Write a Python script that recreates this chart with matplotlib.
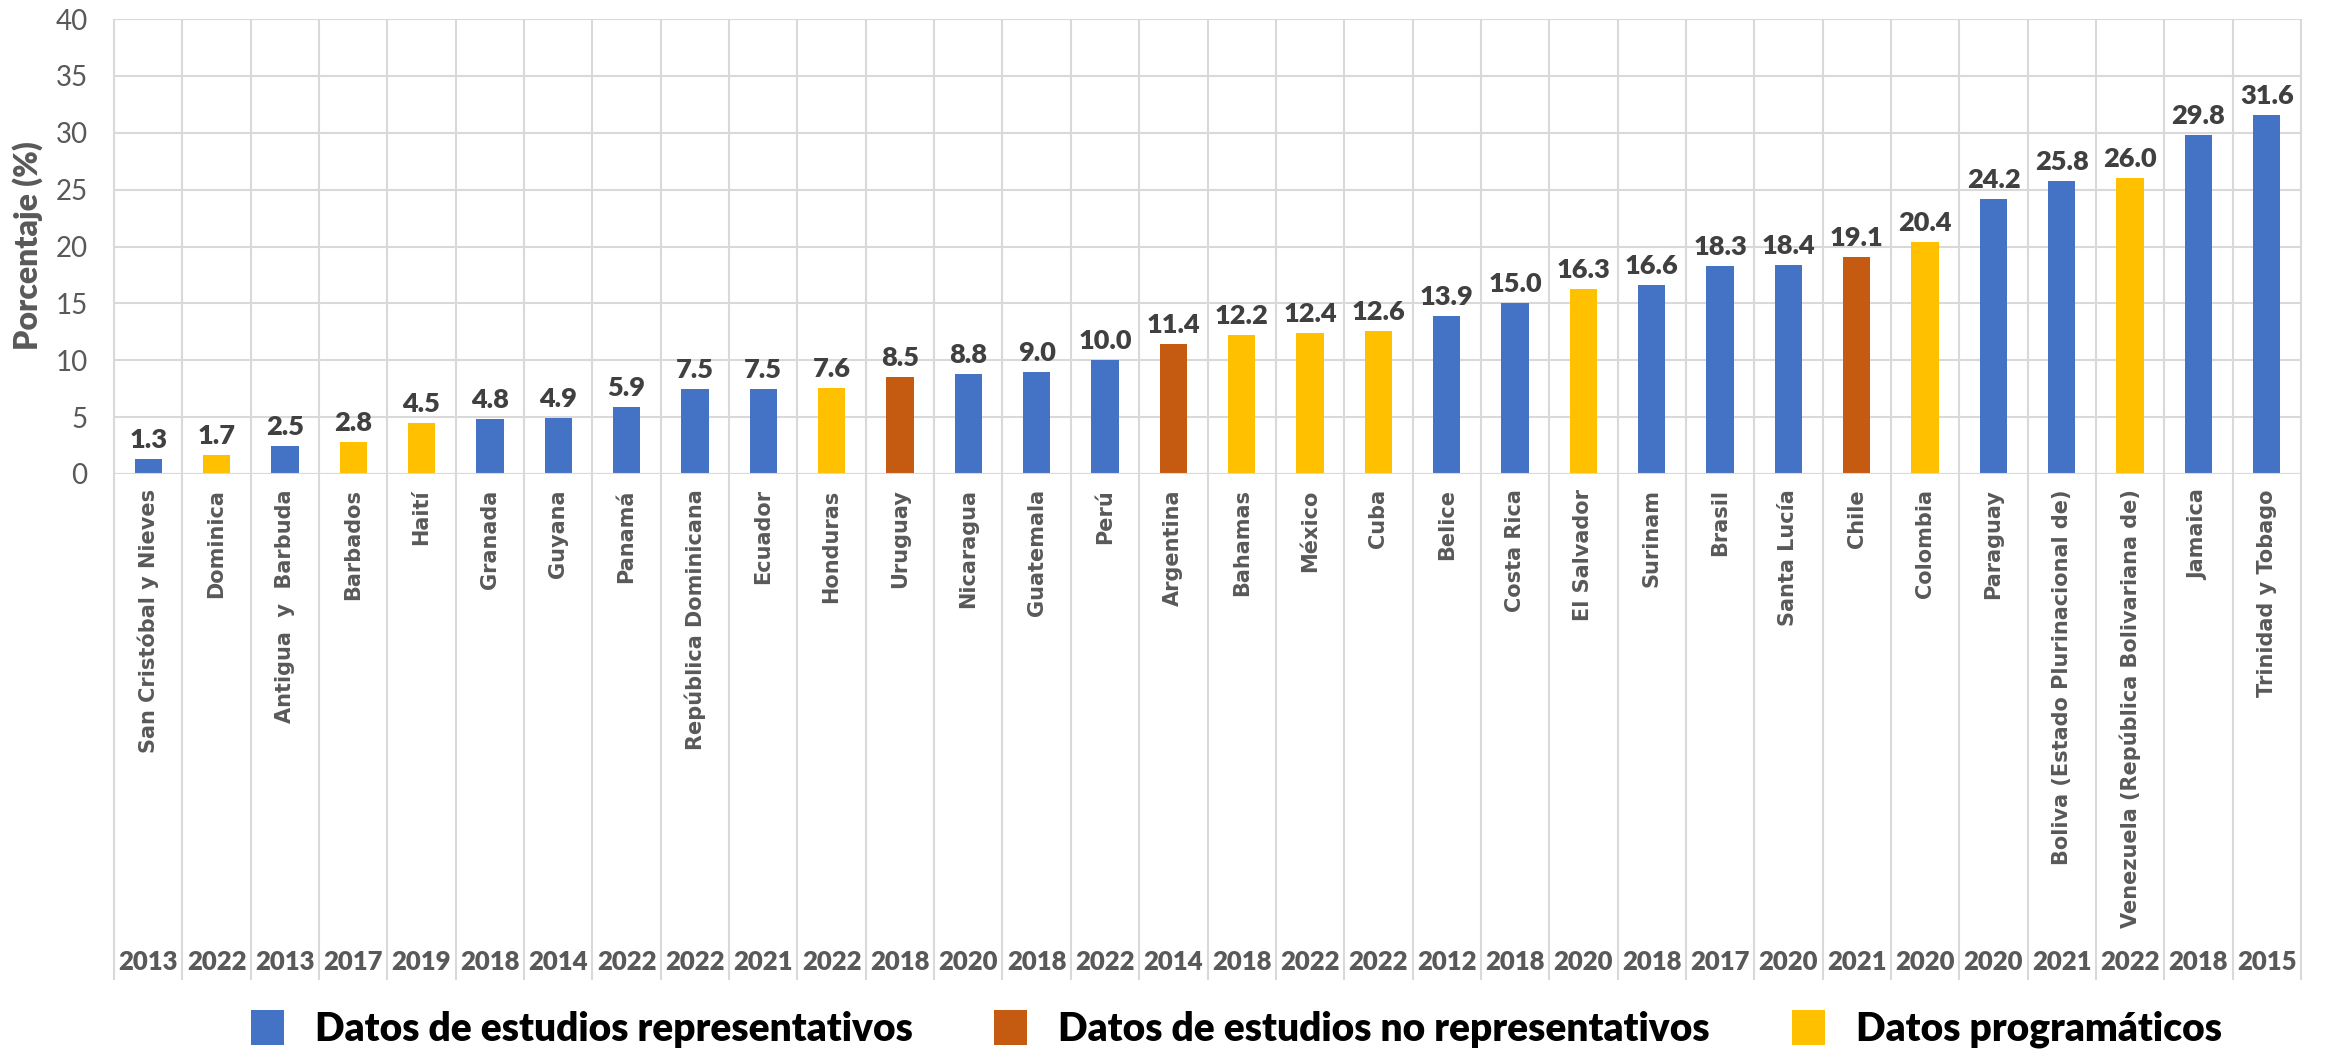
import matplotlib.pyplot as plt
from matplotlib.patches import Patch

plt.rcParams['font.family'] = ['Lato', 'DejaVu Sans']

countries = [
    "San Cristóbal y Nieves", "Dominica", "Antigua  y  Barbuda", "Barbados",
    "Haití", "Granada", "Guyana", "Panamá", "República Dominicana", "Ecuador",
    "Honduras", "Uruguay", "Nicaragua", "Guatemala", "Perú", "Argentina",
    "Bahamas", "México", "Cuba", "Belice", "Costa Rica", "El Salvador",
    "Surinam", "Brasil", "Santa Lucía", "Chile", "Colombia", "Paraguay",
    "Boliva (Estado Plurinacional de)", "Venezuela (República Bolivariana de)",
    "Jamaica", "Trinidad y Tobago",
]
years = [
    2013, 2022, 2013, 2017, 2019, 2018, 2014, 2022, 2022, 2021, 2022, 2018,
    2020, 2018, 2022, 2014, 2018, 2022, 2022, 2012, 2018, 2020, 2018, 2017,
    2020, 2021, 2020, 2020, 2021, 2022, 2018, 2015,
]
values = [
    1.3, 1.7, 2.5, 2.8, 4.5, 4.8, 4.9, 5.9, 7.5, 7.5, 7.6, 8.5, 8.8, 9.0,
    10.0, 11.4, 12.2, 12.4, 12.6, 13.9, 15.0, 16.3, 16.6, 18.3, 18.4, 19.1,
    20.4, 24.2, 25.8, 26.0, 29.8, 31.6,
]
# R = estudio representativo, N = no representativo, P = datos programáticos
source = [
    "R", "P", "R", "P", "P", "R", "R", "R", "R", "R", "P", "N", "R", "R",
    "R", "N", "P", "P", "P", "R", "R", "P", "R", "R", "R", "N", "P", "R",
    "R", "P", "R", "R",
]
source_labels = {
    "R": "Datos de estudios representativos",
    "N": "Datos de estudios no representativos",
    "P": "Datos programáticos",
}
colors = {"R": "#4472C4", "N": "#C55A11", "P": "#FFC000"}

W, H = 2328, 1060
fig = plt.figure(figsize=(W / 100, H / 100), dpi=100)
left, right, top, zero = 114, 2301, 19, 474
ax = fig.add_axes([left / W, 1 - zero / H, (right - left) / W, (zero - top) / H])

grid = "#D9D9D9"
n = len(values)
x = list(range(n))
ax.bar(x, values, width=0.4, color=[colors[s] for s in source], zorder=3)

for xi, v in zip(x, values):
    ax.annotate(f"{v:.1f}", (xi, v), xytext=(0, 5), textcoords="offset points",
                ha="center", va="bottom", fontsize=19.5, fontweight="heavy",
                color="#404040")

ax.set_xlim(-0.5, n - 0.5)
ax.set_ylim(0, 40)
ax.set_yticks(range(0, 41, 5))
ax.yaxis.grid(True, color=grid, linewidth=1.5, zorder=0)
ax.tick_params(axis="y", length=0, pad=19, labelsize=20, labelcolor="#595959")
for sp in ax.spines.values():
    sp.set_visible(False)

# country names under the bars
ax.set_xticks(x)
ax.set_xticklabels(countries, rotation=90, fontsize=15, fontweight="bold",
                   color="#595959", family="DejaVu Sans")
ax.tick_params(axis="x", length=0, pad=11)

# separators between categories, running down through the year row
trans = ax.get_xaxis_transform()
bottom_frac = (zero - 980) / (zero - top)
ax.vlines([i - 0.5 for i in range(n + 1)], bottom_frac, 1, transform=trans,
          color=grid, linewidth=1.5, clip_on=False, zorder=1)
ax.axhline(0, color=grid, linewidth=1.5, zorder=4)

year_frac = (zero - 962) / (zero - top)
for xi, yr in zip(x, years):
    ax.text(xi, year_frac, str(yr), transform=trans, ha="center", va="center",
            fontsize=18.5, fontweight="heavy", color="#595959")

fig.text(28 / W, 1 - 246 / H, "Porcentaje (%)", rotation=90, ha="center",
         va="center", fontsize=23, fontweight="heavy", color="#595959")

handles = [Patch(facecolor=colors[k], label=source_labels[k]) for k in "RNP"]
leg = fig.legend(handles=handles, loc="center",
                 bbox_to_anchor=(0.531, 1 - 1029 / H), ncol=3, frameon=False,
                 handlelength=0.85, handleheight=1.0, columnspacing=2.1,
                 handletextpad=0.8,
                 prop={"weight": "heavy", "size": 28})
for t in leg.get_texts():
    t.set_color("black")

fig.savefig("out.png", dpi=100, facecolor="white")
